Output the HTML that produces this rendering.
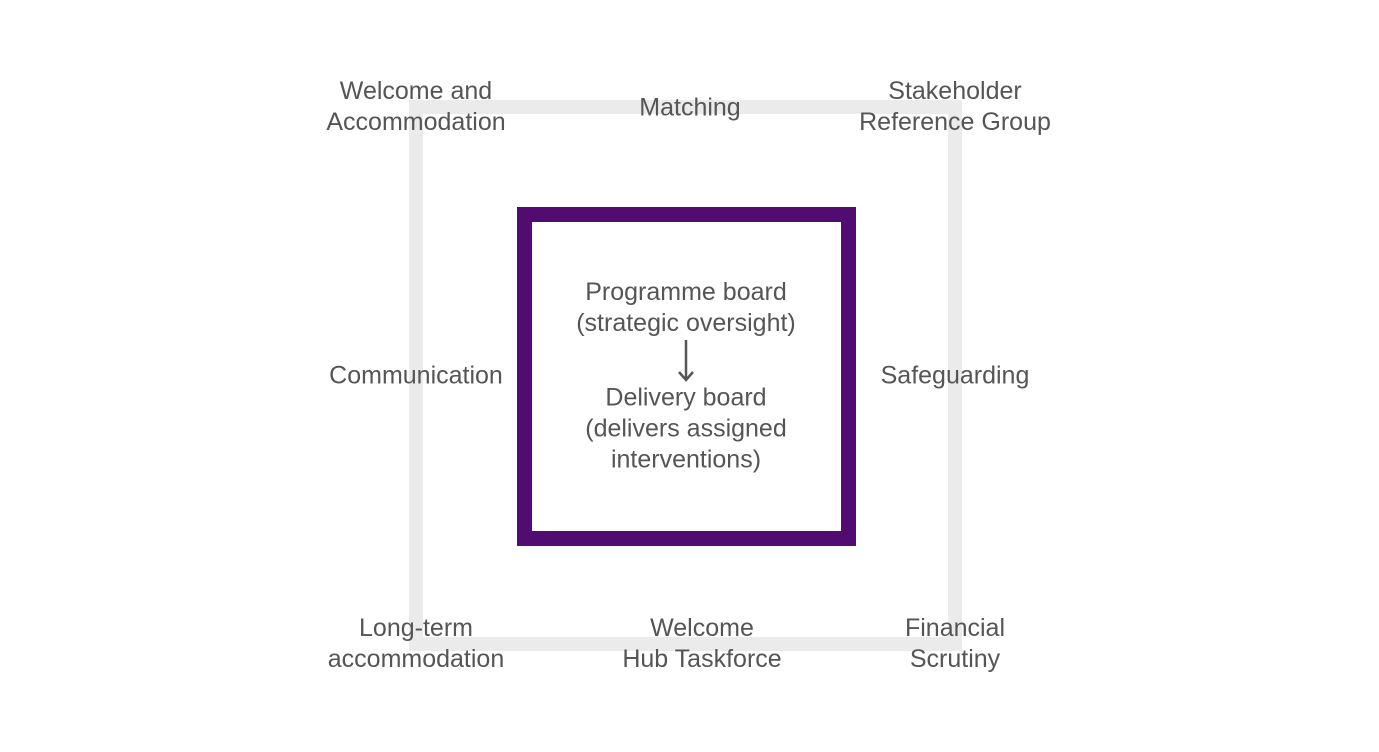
<!DOCTYPE html>
<html><head><style>
html,body{margin:0;padding:0;background:#fff;}
body{width:1379px;height:752px;position:relative;overflow:hidden;font-family:"Liberation Sans",sans-serif;color:#555;}
.o{position:absolute;left:409px;top:100px;width:525px;height:523px;border:14px solid #ebebeb;}
.p{position:absolute;left:517px;top:207px;width:309px;height:309px;border:15px solid #520b70;}
.t{position:absolute;transform:translate(-50%,-50%);text-align:center;font-size:25px;line-height:31px;white-space:nowrap;}
</style></head><body>
<div class="o"></div>
<div class="p"></div>
<div class="t" style="left:416px;top:107px">Welcome and<br>Accommodation</div>
<div class="t" style="left:690px;top:108px">Matching</div>
<div class="t" style="left:955px;top:107px">Stakeholder<br>Reference Group</div>
<div class="t" style="left:416px;top:376px">Communication</div>
<div class="t" style="left:955px;top:376px">Safeguarding</div>
<div class="t" style="left:416px;top:644px">Long-term<br>accommodation</div>
<div class="t" style="left:702px;top:644px">Welcome<br>Hub Taskforce</div>
<div class="t" style="left:955px;top:644px">Financial<br>Scrutiny</div>
<div class="t" style="left:686px;top:308px">Programme board<br>(strategic oversight)</div>
<svg style="position:absolute;left:676px;top:338px" width="20" height="46"><line x1="10" y1="2" x2="10" y2="42" stroke="#555" stroke-width="2.5"/><polyline points="3,34 10,42 17,34" fill="none" stroke="#555" stroke-width="2.5"/></svg>
<div class="t" style="left:686px;top:429px">Delivery board<br>(delivers assigned<br>interventions)</div>
</body></html>
